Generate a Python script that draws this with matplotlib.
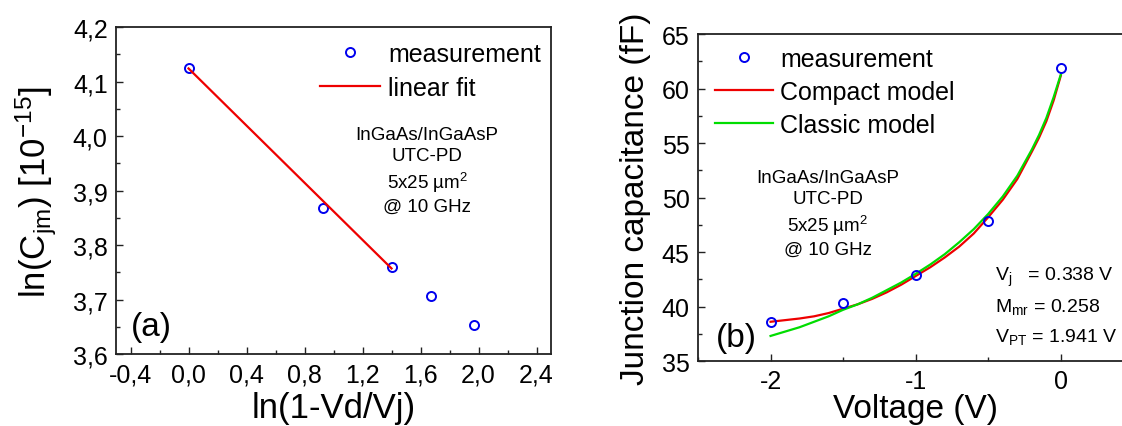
import matplotlib
matplotlib.use("Agg")
import matplotlib.pyplot as plt
from matplotlib.ticker import MultipleLocator, FuncFormatter

# ---- panel (a) data ----
ln_x = [0.0, 0.93, 1.40, 1.67, 1.97]
ln_c = [4.124, 3.868, 3.760, 3.707, 3.654]
fit_x = [0.0, 1.40]
fit_y = [4.124, 3.757]

# ---- panel (b) data ----
meas_v = [-2.0, -1.5, -1.0, -0.5, 0.0]
meas_c = [38.6, 40.3, 42.9, 47.8, 61.85]

curve_v = [-2.0, -1.9, -1.8, -1.7, -1.6, -1.5, -1.4, -1.3, -1.2, -1.1, -1.0,
           -0.9, -0.8, -0.7, -0.6, -0.5, -0.4, -0.3, -0.2, -0.15, -0.1, -0.05, 0.0]
compact_c = [38.6, 38.75, 38.9, 39.1, 39.4, 39.8, 40.2, 40.7, 41.3, 42.0, 42.8,
             43.6, 44.5, 45.5, 46.7, 48.2, 49.8, 51.7, 54.2, 55.5, 57.0, 58.9, 61.2]
classic_c = [37.3, 37.7, 38.1, 38.6, 39.1, 39.7, 40.2, 40.8, 41.5, 42.2, 43.0,
             43.85, 44.8, 45.9, 47.1, 48.5, 50.1, 52.0, 54.4, 55.75, 57.3, 59.2, 61.3]

plt.rcParams['font.family'] = ['Liberation Sans', 'DejaVu Sans']
plt.rcParams['mathtext.fontset'] = 'custom'
plt.rcParams['mathtext.rm'] = 'Liberation Sans'
plt.rcParams['mathtext.it'] = 'Liberation Sans'
plt.rcParams['axes.unicode_minus'] = False

fig = plt.figure(figsize=(11.22, 4.27), dpi=100)
ax1 = fig.add_axes([0.1034, 0.1686, 0.3877, 0.7658])
ax2 = fig.add_axes([0.6221, 0.1522, 0.3881, 0.7658])


def style_axes(ax):
    for s in ax.spines.values():
        s.set_linewidth(1.3)
        s.set_color('#222222')
    ax.tick_params(which='both', direction='in', top=False, right=False,
                   labelsize=18, width=1.0, color='#222222', pad=6)
    ax.tick_params(which='major', length=5)
    ax.tick_params(which='minor', length=3)


# ---- panel (a) ----
ax1.plot(ln_x, ln_c, 'o', mfc='none', mec='#0000ee', mew=1.4, ms=6.5,
         label='measurement')
ax1.plot(fit_x, fit_y, '-', color='#ee0000', lw=1.6, label='linear fit')
ax1.set_xlim(-0.5, 2.5)
ax1.set_ylim(3.6, 4.2)
ax1.xaxis.set_major_locator(MultipleLocator(0.4))
ax1.xaxis.set_minor_locator(MultipleLocator(0.2))
ax1.yaxis.set_major_locator(MultipleLocator(0.1))
ax1.yaxis.set_minor_locator(MultipleLocator(0.05))
comma = FuncFormatter(lambda v, _: f"{v:.1f}".replace('.', ','))
ax1.xaxis.set_major_formatter(comma)
ax1.yaxis.set_major_formatter(comma)
style_axes(ax1)
ax1.set_xlabel('ln(1-Vd/Vj)', fontsize=25, labelpad=3)
ax1.set_ylabel(r'ln(C$_{jm}$) [10$^{-15}$]', fontsize=25, labelpad=10)
ax1.legend(loc='upper left', bbox_to_anchor=(0.47, 0.955), frameon=False,
           fontsize=18, handlelength=2.4, handletextpad=0.3, borderpad=0,
           borderaxespad=0, labelspacing=0.4)
ax1.text(0.715, 0.561, 'InGaAs/InGaAsP\nUTC-PD\n5x25 µm$^2$\n@ 10 GHz',
         transform=ax1.transAxes, ha='center', va='center', fontsize=13.5,
         linespacing=1.3)
ax1.text(0.034, 0.083, '(a)', transform=ax1.transAxes, ha='left',
         va='center', fontsize=24)

# ---- panel (b) ----
ax2.plot(meas_v, meas_c, 'o', mfc='none', mec='#0000ee', mew=1.4, ms=6.5,
         label='measurement', zorder=3)
ax2.plot(curve_v, compact_c, '-', color='#ee0000', lw=1.6, label='Compact model')
ax2.plot(curve_v, classic_c, '-', color='#00dd00', lw=1.6, label='Classic model')
ax2.set_xlim(-2.5, 0.5)
ax2.set_ylim(35, 65)
ax2.xaxis.set_major_locator(MultipleLocator(1))
ax2.xaxis.set_minor_locator(MultipleLocator(0.5))
ax2.yaxis.set_major_locator(MultipleLocator(5))
ax2.yaxis.set_minor_locator(MultipleLocator(2.5))
style_axes(ax2)
ax2.set_xlabel('Voltage (V)', fontsize=24, labelpad=0)
ax2.set_ylabel('Junction capacitance (fF)', fontsize=24, labelpad=8)
ax2.legend(loc='upper left', bbox_to_anchor=(0.04, 0.96), frameon=False,
           fontsize=18, handlelength=2.3, handletextpad=0.3, borderpad=0,
           borderaxespad=0, labelspacing=0.35)
ax2.text(0.2985, 0.451, 'InGaAs/InGaAsP\nUTC-PD\n5x25 µm$^2$\n@ 10 GHz',
         transform=ax2.transAxes, ha='center', va='center', fontsize=13.5,
         linespacing=1.3)
ax2.text(0.683, 0.26, r'V$_j$   = 0.338 V', transform=ax2.transAxes,
         ha='left', va='center', fontsize=14)
ax2.text(0.683, 0.168, r'M$_{mr}$ = 0.258', transform=ax2.transAxes,
         ha='left', va='center', fontsize=14)
ax2.text(0.683, 0.076, r'V$_{PT}$ = 1.941 V', transform=ax2.transAxes,
         ha='left', va='center', fontsize=14)
ax2.text(0.040, 0.073, '(b)', transform=ax2.transAxes, ha='left',
         va='center', fontsize=24)

fig.savefig('out.png', dpi=100)
